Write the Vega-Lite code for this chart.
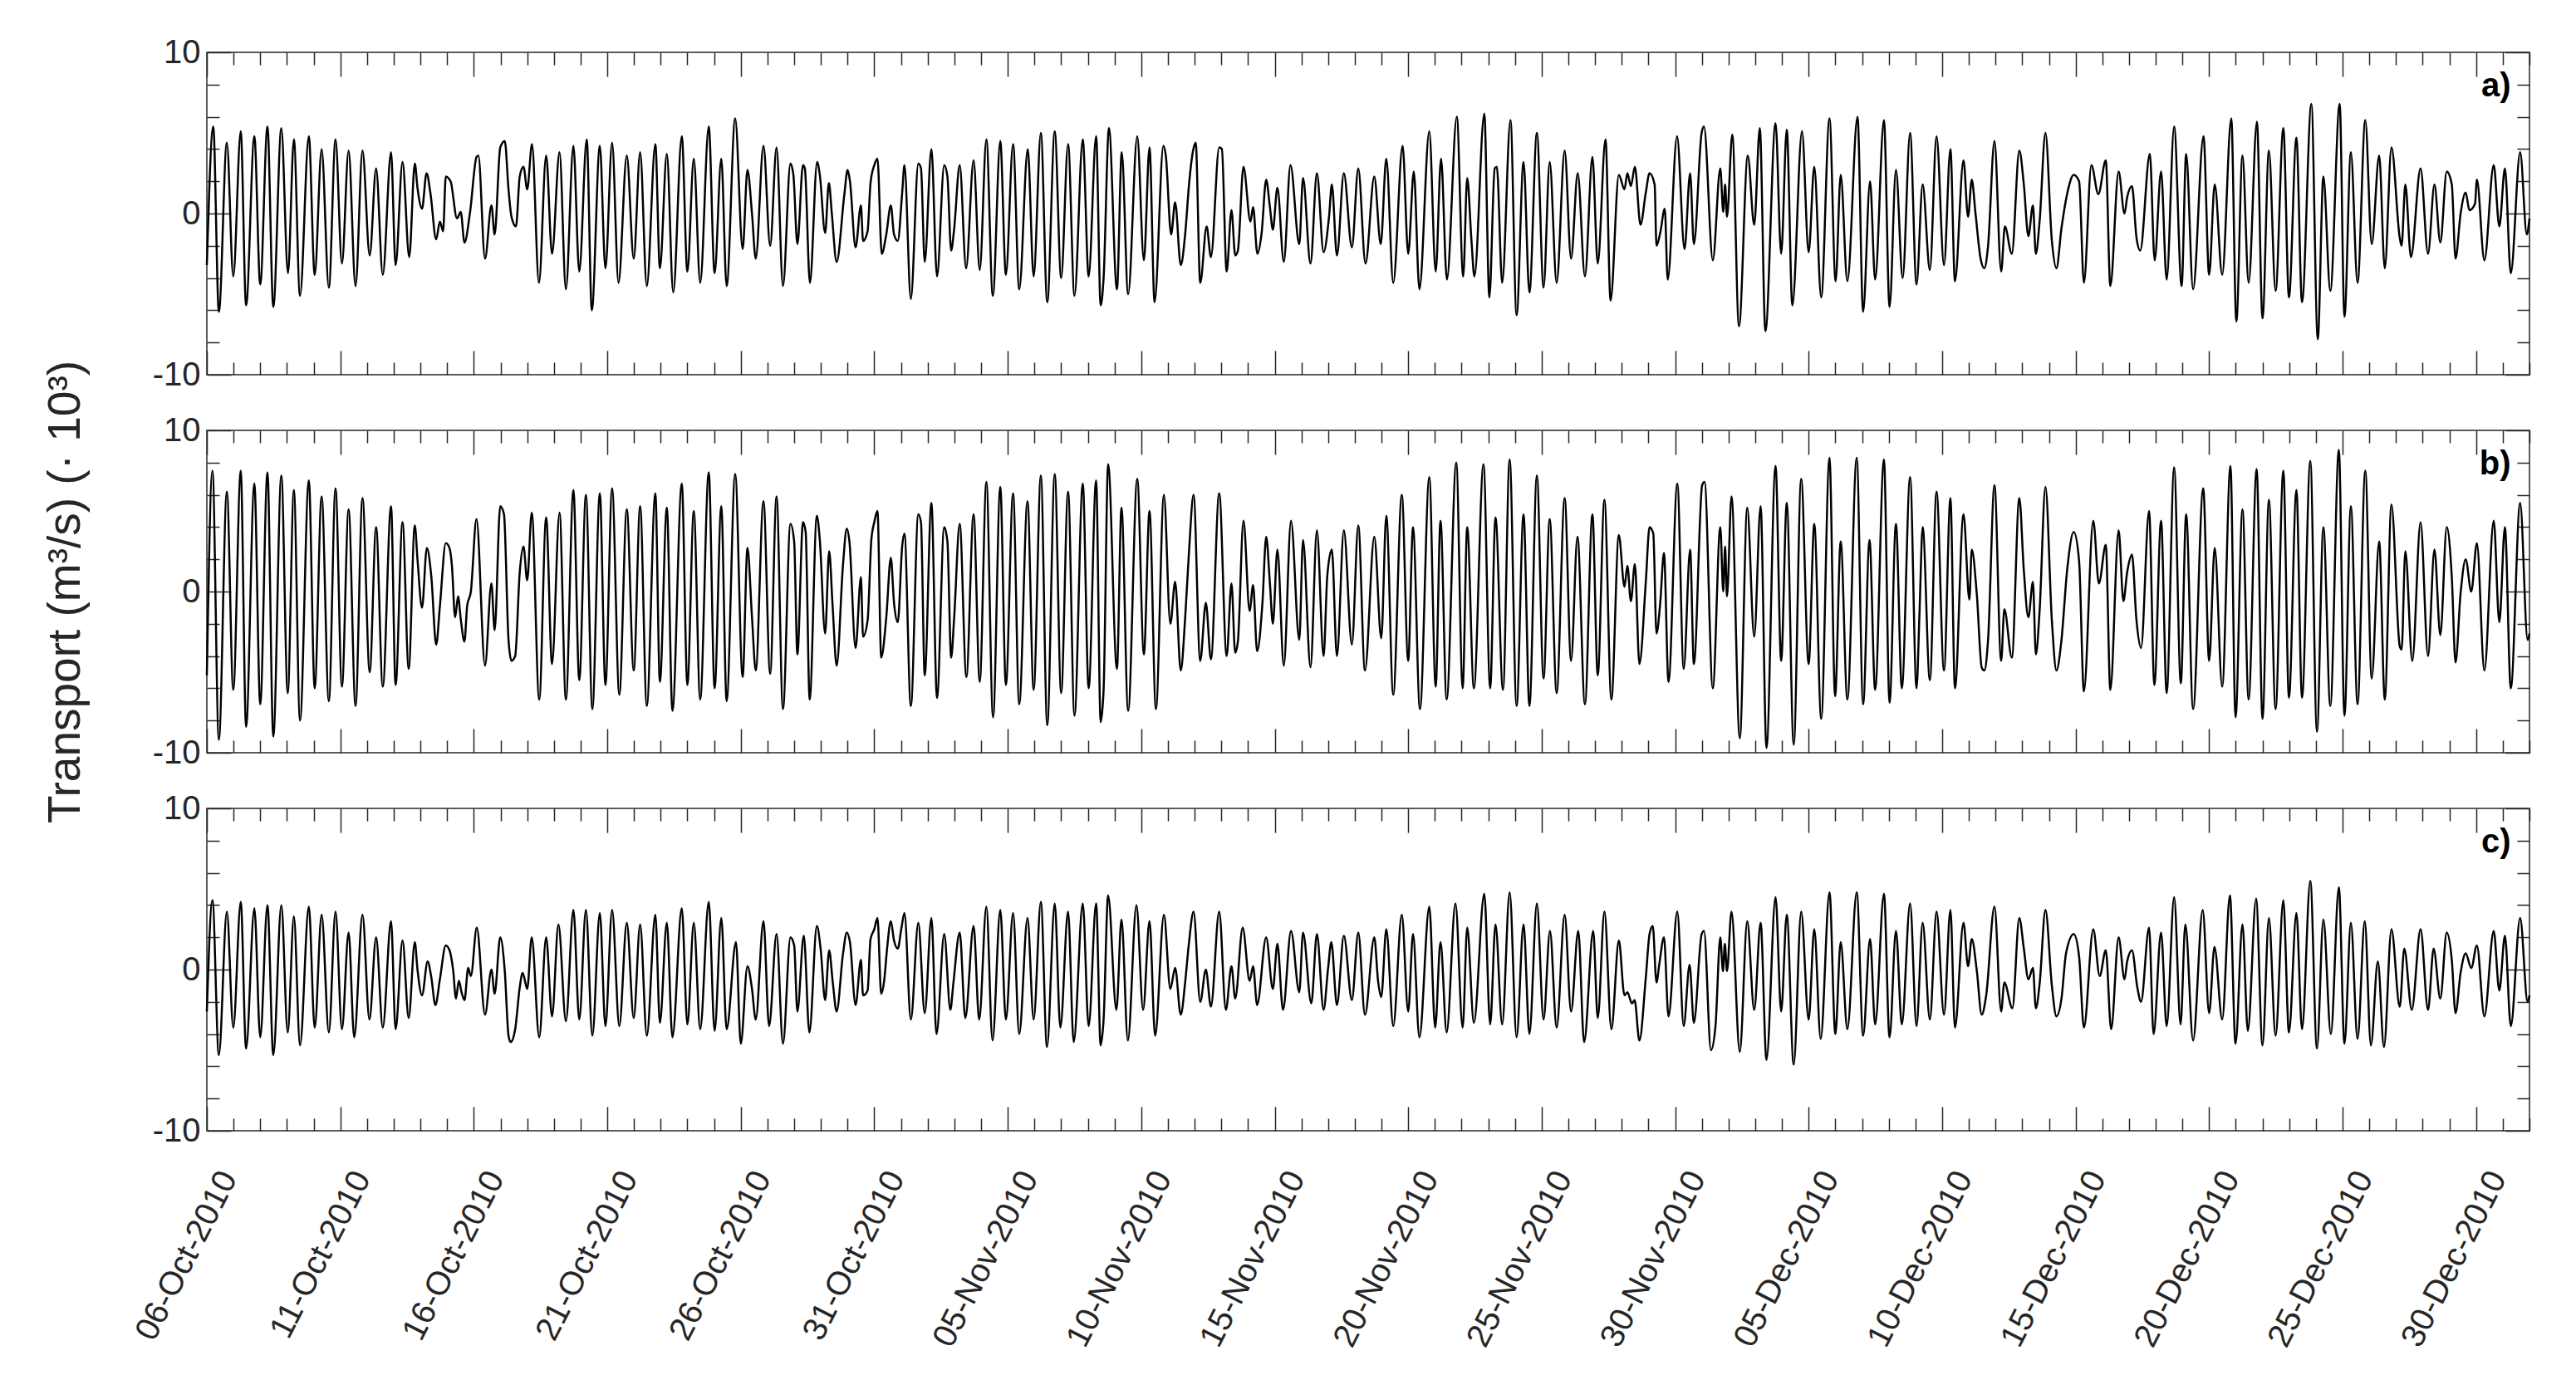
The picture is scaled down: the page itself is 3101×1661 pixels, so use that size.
{
"$schema": "https://vega.github.io/schema/vega-lite/v6.json",
"background": "white",
"padding": {"left": 50, "top": 42, "right": 50, "bottom": 5},
"bounds": "flush",
"spacing": 67,
"config": {
 "view": {"stroke": "#262626", "strokeWidth": 1.5},
 "font": "Liberation Sans",
 "axis": {"labelFont": "Liberation Sans", "titleFont": "Liberation Sans", "labelColor": "#262626", "titleColor": "#262626", "tickColor": "#262626", "tickWidth": 1.5, "grid": false, "domain": false, "labelFontSize": 40, "titleFontWeight": "normal", "labelOverlap": false, "labelLimit": 0}
},
"datasets": {
"a": [{"t":0,"v":-3.2},{"t":0.24,"v":5.4},{"t":0.45,"v":-6.1},{"t":0.75,"v":4.4},{"t":0.99,"v":-3.9},{"t":1.27,"v":5.1},{"t":1.47,"v":-5.7},{"t":1.78,"v":4.8},{"t":2.0,"v":-4.4},{"t":2.27,"v":5.4},{"t":2.49,"v":-5.8},{"t":2.79,"v":5.3},{"t":3.04,"v":-3.7},{"t":3.26,"v":4.6},{"t":3.49,"v":-5.1},{"t":3.82,"v":4.8},{"t":4.04,"v":-3.8},{"t":4.3,"v":4.0},{"t":4.57,"v":-4.6},{"t":4.82,"v":4.6},{"t":5.06,"v":-3.1},{"t":5.31,"v":3.9},{"t":5.57,"v":-4.5},{"t":5.83,"v":3.9},{"t":6.1,"v":-2.6},{"t":6.34,"v":2.8},{"t":6.59,"v":-3.8},{"t":6.9,"v":3.8},{"t":7.07,"v":-3.2},{"t":7.33,"v":3.2},{"t":7.58,"v":-2.7},{"t":7.79,"v":3.1},{"t":7.89,"v":1.6},{"t":8.06,"v":0.3},{"t":8.23,"v":2.5},{"t":8.38,"v":1.2},{"t":8.59,"v":-1.6},{"t":8.73,"v":-0.5},{"t":8.85,"v":-1.1},{"t":8.95,"v":2.3},{"t":9.13,"v":2.0},{"t":9.37,"v":-0.3},{"t":9.51,"v":0.1},{"t":9.65,"v":-1.8},{"t":9.86,"v":0.1},{"t":10.1,"v":3.5},{"t":10.17,"v":3.6},{"t":10.42,"v":-2.8},{"t":10.66,"v":0.5},{"t":10.78,"v":-1.3},{"t":10.99,"v":4.1},{"t":11.16,"v":4.5},{"t":11.3,"v":1.5},{"t":11.41,"v":-0.2},{"t":11.58,"v":-0.8},{"t":11.72,"v":2.3},{"t":11.86,"v":2.9},{"t":12.0,"v":1.5},{"t":12.18,"v":4.3},{"t":12.44,"v":-4.3},{"t":12.71,"v":3.6},{"t":12.93,"v":-2.5},{"t":13.21,"v":3.8},{"t":13.45,"v":-4.7},{"t":13.73,"v":4.2},{"t":13.95,"v":-3.6},{"t":14.23,"v":4.6},{"t":14.42,"v":-6.0},{"t":14.72,"v":4.2},{"t":14.93,"v":-3.4},{"t":15.18,"v":4.4},{"t":15.42,"v":-4.3},{"t":15.73,"v":3.6},{"t":15.99,"v":-2.8},{"t":16.23,"v":3.8},{"t":16.48,"v":-4.5},{"t":16.8,"v":4.3},{"t":16.97,"v":-3.4},{"t":17.23,"v":3.7},{"t":17.47,"v":-4.9},{"t":17.79,"v":4.8},{"t":18.0,"v":-3.6},{"t":18.24,"v":3.4},{"t":18.48,"v":-4.3},{"t":18.8,"v":5.4},{"t":19.02,"v":-3.7},{"t":19.27,"v":3.4},{"t":19.47,"v":-4.5},{"t":19.79,"v":5.9},{"t":20.07,"v":-2.2},{"t":20.25,"v":2.7},{"t":20.42,"v":0.0},{"t":20.56,"v":-2.8},{"t":20.85,"v":4.2},{"t":21.1,"v":-2.0},{"t":21.34,"v":4.1},{"t":21.58,"v":-4.5},
{"t":21.86,"v":3.1},{"t":21.97,"v":2.4},{"t":22.12,"v":-1.9},{"t":22.33,"v":3.0},{"t":22.4,"v":2.8},{"t":22.59,"v":-4.3},{"t":22.86,"v":3.2},{"t":22.96,"v":2.4},{"t":23.16,"v":-1.2},{"t":23.3,"v":1.9},{"t":23.41,"v":0.0},{"t":23.59,"v":-3.0},{"t":23.88,"v":1.2},{"t":24.0,"v":2.7},{"t":24.09,"v":2.0},{"t":24.3,"v":-2.1},{"t":24.5,"v":0.5},{"t":24.58,"v":-1.7},{"t":24.75,"v":-1.1},{"t":24.86,"v":1.9},{"t":25.0,"v":3.0},{"t":25.12,"v":3.4},{"t":25.28,"v":-2.5},{"t":25.45,"v":-1.3},{"t":25.62,"v":0.5},{"t":25.74,"v":-1.3},{"t":25.88,"v":-1.7},{"t":26.05,"v":1.4},{"t":26.13,"v":3.0},{"t":26.37,"v":-5.3},{"t":26.65,"v":3.1},{"t":26.75,"v":2.8},{"t":26.89,"v":-3.0},{"t":27.14,"v":4.0},{"t":27.35,"v":-3.9},{"t":27.62,"v":3.0},{"t":27.74,"v":2.3},{"t":27.88,"v":-2.3},{"t":27.99,"v":-1.0},{"t":28.2,"v":3.0},{"t":28.44,"v":-3.4},{"t":28.72,"v":3.3},{"t":28.95,"v":-3.5},{"t":29.2,"v":4.6},{"t":29.44,"v":-5.1},{"t":29.72,"v":4.5},{"t":29.93,"v":-3.8},{"t":30.2,"v":4.3},{"t":30.43,"v":-4.7},{"t":30.75,"v":4.0},{"t":30.97,"v":-3.9},{"t":31.24,"v":5.0},{"t":31.48,"v":-5.5},{"t":31.76,"v":5.1},{"t":32.0,"v":-4.0},{"t":32.26,"v":4.3},{"t":32.5,"v":-5.1},{"t":32.81,"v":4.6},{"t":33.03,"v":-3.9},{"t":33.31,"v":4.8},{"t":33.48,"v":-5.7},{"t":33.59,"v":-4.0},{"t":33.79,"v":5.3},{"t":34.09,"v":-4.7},{"t":34.27,"v":3.8},{"t":34.51,"v":-5.0},{"t":34.85,"v":4.8},{"t":35.1,"v":-2.9},{"t":35.31,"v":4.1},{"t":35.5,"v":-5.5},{"t":35.83,"v":4.2},{"t":35.92,"v":3.6},{"t":36.12,"v":-1.3},{"t":36.27,"v":0.7},{"t":36.48,"v":-3.2},{"t":36.65,"v":-1.2},{"t":36.79,"v":1.8},{"t":36.93,"v":3.8},{"t":37.04,"v":4.4},{"t":37.21,"v":-4.3},{"t":37.45,"v":-0.8},{"t":37.61,"v":-2.7},{"t":37.92,"v":4.1},{"t":38.02,"v":4.0},{"t":38.2,"v":-3.6},{"t":38.38,"v":0.2},{"t":38.52,"v":-2.6},{"t":38.62,"v":-2.3},{"t":38.83,"v":2.9},{"t":39.09,"v":-0.5},{"t":39.19,"v":0.4},{"t":39.35,"v":-2.5},{"t":39.51,"v":-1.2},{"t":39.68,"v":2.1},{"t":39.82,"v":0.4},{"t":39.93,"v":-1.0},{"t":40.1,"v":1.6},{"t":40.34,"v":-3.0},{"t":40.59,"v":3.0},{"t":40.92,"v":-1.9},{"t":41.06,"v":2.2},{"t":41.34,"v":-3.1},{"t":41.58,"v":2.5},{"t":41.83,"v":-2.4},{"t":42.04,"v":-0.1},{"t":42.14,"v":1.8},{"t":42.33,"v":-2.6},{"t":42.59,"v":2.5},{"t":42.89,"v":-2.1},{"t":43.13,"v":2.8},{"t":43.4,"v":-3.1},
{"t":43.73,"v":2.3},{"t":43.97,"v":-1.9},{"t":44.18,"v":3.4},{"t":44.44,"v":-4.3},{"t":44.79,"v":4.2},{"t":45.0,"v":-2.5},{"t":45.21,"v":2.6},{"t":45.42,"v":-4.7},{"t":45.79,"v":5.1},{"t":46.03,"v":-3.6},{"t":46.23,"v":3.4},{"t":46.45,"v":-4.1},{"t":46.82,"v":6.0},{"t":47.06,"v":-3.9},{"t":47.21,"v":2.2},{"t":47.37,"v":-1.7},{"t":47.48,"v":-3.9},{"t":47.85,"v":6.2},{"t":48.04,"v":-5.2},{"t":48.24,"v":2.8},{"t":48.32,"v":2.9},{"t":48.52,"v":-4.3},{"t":48.83,"v":5.8},{"t":49.06,"v":-6.3},{"t":49.32,"v":3.2},{"t":49.54,"v":-4.9},{"t":49.82,"v":5.0},{"t":50.07,"v":-4.6},{"t":50.3,"v":3.2},{"t":50.56,"v":-4.3},{"t":50.86,"v":3.9},{"t":51.1,"v":-2.8},{"t":51.35,"v":2.5},{"t":51.62,"v":-3.9},{"t":51.9,"v":3.5},{"t":52.1,"v":-3.1},{"t":52.39,"v":4.6},{"t":52.58,"v":-5.4},{"t":52.89,"v":2.4},{"t":53.1,"v":1.5},{"t":53.21,"v":2.5},{"t":53.34,"v":1.7},{"t":53.49,"v":2.9},{"t":53.7,"v":-0.7},{"t":53.9,"v":1.3},{"t":54.04,"v":2.5},{"t":54.23,"v":1.8},{"t":54.3,"v":-2.0},{"t":54.44,"v":-1.2},{"t":54.61,"v":0.3},{"t":54.72,"v":-4.1},{"t":55.07,"v":4.8},{"t":55.35,"v":-2.2},{"t":55.56,"v":2.5},{"t":55.7,"v":-1.9},{"t":55.99,"v":5.0},{"t":56.08,"v":5.4},{"t":56.41,"v":-2.9},{"t":56.69,"v":2.8},{"t":56.8,"v":0.1},{"t":56.87,"v":1.8},{"t":56.94,"v":-0.2},{"t":57.14,"v":4.9},{"t":57.39,"v":-7.0},{"t":57.72,"v":3.6},{"t":57.96,"v":-0.7},{"t":58.17,"v":5.3},{"t":58.38,"v":-7.3},{"t":58.76,"v":5.6},{"t":58.97,"v":-2.5},{"t":59.18,"v":5.2},{"t":59.39,"v":-5.7},{"t":59.75,"v":5.1},{"t":60.0,"v":-2.4},{"t":60.21,"v":2.9},{"t":60.47,"v":-5.2},{"t":60.78,"v":5.9},{"t":61.01,"v":-4.2},{"t":61.2,"v":2.4},{"t":61.45,"v":-4.2},{"t":61.83,"v":6.0},{"t":62.04,"v":-6.1},{"t":62.3,"v":2.0},{"t":62.49,"v":-4.1},{"t":62.82,"v":5.8},{"t":63.03,"v":-5.8},{"t":63.27,"v":2.7},{"t":63.52,"v":-4.0},{"t":63.8,"v":5.0},{"t":64.04,"v":-4.4},{"t":64.27,"v":1.8},{"t":64.54,"v":-3.5},{"t":64.79,"v":4.8},{"t":65.07,"v":-3.2},
{"t":65.31,"v":4.0},{"t":65.48,"v":-4.2},{"t":65.8,"v":3.3},{"t":65.97,"v":-0.2},{"t":66.11,"v":2.1},{"t":66.25,"v":0.0},{"t":66.44,"v":-2.8},{"t":66.58,"v":-3.4},{"t":66.72,"v":-2.0},{"t":66.96,"v":4.5},{"t":67.21,"v":-3.6},{"t":67.35,"v":-0.8},{"t":67.61,"v":-2.5},{"t":67.89,"v":3.9},{"t":68.06,"v":1.8},{"t":68.23,"v":-1.4},{"t":68.4,"v":0.5},{"t":68.51,"v":-2.5},{"t":68.65,"v":-0.5},{"t":68.87,"v":5.0},{"t":69.11,"v":-1.7},{"t":69.28,"v":-3.4},{"t":69.47,"v":-0.9},{"t":69.68,"v":1.2},{"t":69.93,"v":2.4},{"t":70.13,"v":2.0},{"t":70.31,"v":-4.3},{"t":70.59,"v":3.0},{"t":70.85,"v":1.2},{"t":71.13,"v":3.3},{"t":71.3,"v":-4.5},{"t":71.61,"v":2.6},{"t":71.83,"v":0.0},{"t":71.93,"v":1.0},{"t":72.11,"v":1.7},{"t":72.28,"v":-1.5},{"t":72.42,"v":-2.3},{"t":72.78,"v":3.7},{"t":72.96,"v":-2.9},{"t":73.2,"v":2.6},{"t":73.41,"v":-4.1},{"t":73.69,"v":5.4},{"t":73.97,"v":-4.5},{"t":74.14,"v":3.7},{"t":74.4,"v":-4.7},{"t":74.79,"v":4.8},{"t":75.0,"v":-3.8},{"t":75.21,"v":1.8},{"t":75.49,"v":-3.8},{"t":75.83,"v":5.9},{"t":76.02,"v":-6.7},{"t":76.25,"v":3.6},{"t":76.48,"v":-4.3},{"t":76.79,"v":5.7},{"t":77.0,"v":-6.5},{"t":77.24,"v":3.9},{"t":77.49,"v":-4.8},{"t":77.78,"v":5.3},{"t":77.99,"v":-5.2},{"t":78.27,"v":4.7},{"t":78.48,"v":-5.5},{"t":78.83,"v":6.8},{"t":79.07,"v":-7.8},{"t":79.28,"v":2.3},{"t":79.54,"v":-4.8},{"t":79.89,"v":6.8},{"t":80.07,"v":-6.4},{"t":80.31,"v":3.8},{"t":80.56,"v":-4.3},{"t":80.85,"v":5.8},{"t":81.09,"v":-1.9},{"t":81.37,"v":3.6},{"t":81.58,"v":-3.4},{"t":81.83,"v":4.1},{"t":82.14,"v":-1.5},{"t":82.21,"v":-2.0},{"t":82.35,"v":1.8},{"t":82.56,"v":-2.7},{"t":82.92,"v":2.8},{"t":83.2,"v":-2.5},{"t":83.44,"v":1.8},{"t":83.66,"v":-1.8},{"t":83.9,"v":2.6},{"t":84.09,"v":1.8},{"t":84.23,"v":-2.8},{"t":84.42,"v":0.0},{"t":84.61,"v":1.3},{"t":84.75,"v":0.2},{"t":84.96,"v":0.6},{"t":85.03,"v":2.1},{"t":85.31,"v":-2.9},{"t":85.66,"v":3.0},{"t":85.87,"v":-0.8},{"t":86.08,"v":2.8},{"t":86.3,"v":-3.7},{"t":86.65,"v":3.8},{"t":86.9,"v":-1.3},{"t":87.0,"v":-0.3}],
"b": [{"t":0,"v":-5.2},{"t":0.21,"v":7.5},{"t":0.45,"v":-9.2},{"t":0.75,"v":6.2},{"t":0.99,"v":-6.1},{"t":1.27,"v":7.5},{"t":1.47,"v":-8.4},{"t":1.78,"v":6.7},{"t":2.0,"v":-7.0},{"t":2.27,"v":7.4},{"t":2.49,"v":-9.0},{"t":2.79,"v":7.2},{"t":3.03,"v":-6.3},{"t":3.26,"v":6.3},{"t":3.49,"v":-8.0},{"t":3.82,"v":6.9},{"t":4.04,"v":-6.0},{"t":4.3,"v":5.9},{"t":4.57,"v":-6.8},{"t":4.82,"v":6.4},{"t":5.06,"v":-5.9},{"t":5.31,"v":5.1},{"t":5.57,"v":-7.1},{"t":5.83,"v":5.8},{"t":6.1,"v":-5.0},{"t":6.34,"v":4.0},{"t":6.59,"v":-5.9},{"t":6.9,"v":5.3},{"t":7.07,"v":-5.8},{"t":7.33,"v":4.3},{"t":7.56,"v":-4.8},{"t":7.79,"v":4.1},{"t":7.89,"v":2.0},{"t":8.06,"v":-1.0},{"t":8.24,"v":2.7},{"t":8.41,"v":0.9},{"t":8.59,"v":-3.3},{"t":8.73,"v":-0.9},{"t":8.95,"v":3.0},{"t":9.09,"v":2.7},{"t":9.18,"v":1.6},{"t":9.3,"v":-1.6},{"t":9.41,"v":-0.3},{"t":9.51,"v":-1.7},{"t":9.65,"v":-3.1},{"t":9.75,"v":-0.9},{"t":9.89,"v":0.0},{"t":10.1,"v":4.5},{"t":10.42,"v":-4.6},{"t":10.66,"v":0.5},{"t":10.78,"v":-2.4},{"t":10.99,"v":5.3},{"t":11.13,"v":4.8},{"t":11.3,"v":-3.0},{"t":11.41,"v":-4.3},{"t":11.55,"v":-4.0},{"t":11.72,"v":1.2},{"t":11.86,"v":2.8},{"t":12.0,"v":0.7},{"t":12.17,"v":4.9},{"t":12.45,"v":-6.7},{"t":12.71,"v":4.6},{"t":12.93,"v":-4.5},{"t":13.21,"v":4.9},{"t":13.45,"v":-6.7},{"t":13.73,"v":6.3},{"t":13.95,"v":-5.5},{"t":14.2,"v":6.0},{"t":14.44,"v":-7.3},{"t":14.72,"v":6.1},{"t":14.93,"v":-5.8},{"t":15.18,"v":6.4},{"t":15.45,"v":-6.4},{"t":15.73,"v":5.1},{"t":15.99,"v":-4.9},{"t":16.23,"v":5.3},{"t":16.48,"v":-7.1},{"t":16.8,"v":6.1},{"t":16.97,"v":-5.6},{"t":17.23,"v":5.2},{"t":17.44,"v":-7.4},{"t":17.79,"v":6.7},{"t":18.0,"v":-5.8},{"t":18.24,"v":5.0},{"t":18.48,"v":-6.7},{"t":18.8,"v":7.4},{"t":19.02,"v":-6.0},{"t":19.27,"v":5.3},{"t":19.47,"v":-6.8},{"t":19.79,"v":7.3},{"t":20.07,"v":-5.3},{"t":20.25,"v":2.7},{"t":20.42,"v":-1.6},{"t":20.56,"v":-4.9},{"t":20.85,"v":5.6},{"t":21.1,"v":-5.1},{"t":21.34,"v":5.9},{"t":21.58,"v":-7.3},
{"t":21.86,"v":4.2},{"t":22.0,"v":3.1},{"t":22.12,"v":-3.9},{"t":22.33,"v":4.3},{"t":22.43,"v":3.7},{"t":22.58,"v":-6.7},{"t":22.85,"v":4.7},{"t":22.96,"v":3.2},{"t":23.16,"v":-2.6},{"t":23.31,"v":2.5},{"t":23.44,"v":-0.9},{"t":23.59,"v":-4.6},{"t":23.83,"v":1.7},{"t":23.97,"v":3.9},{"t":24.07,"v":3.1},{"t":24.3,"v":-3.5},{"t":24.5,"v":0.9},{"t":24.58,"v":-2.8},{"t":24.75,"v":-1.8},{"t":24.89,"v":3.2},{"t":25.0,"v":4.3},{"t":25.12,"v":5.0},{"t":25.26,"v":-4.1},{"t":25.45,"v":-1.6},{"t":25.62,"v":2.1},{"t":25.74,"v":-0.7},{"t":25.88,"v":-1.9},{"t":26.05,"v":2.9},{"t":26.13,"v":3.6},{"t":26.37,"v":-7.1},{"t":26.65,"v":4.8},{"t":26.75,"v":4.3},{"t":26.89,"v":-5.2},{"t":27.14,"v":5.5},{"t":27.35,"v":-6.6},{"t":27.62,"v":4.0},{"t":27.74,"v":3.1},{"t":27.88,"v":-4.1},{"t":27.99,"v":-1.7},{"t":28.2,"v":4.2},{"t":28.45,"v":-5.3},{"t":28.72,"v":4.8},{"t":28.95,"v":-5.6},{"t":29.2,"v":6.8},{"t":29.45,"v":-7.8},{"t":29.72,"v":6.5},{"t":29.93,"v":-5.8},{"t":30.2,"v":6.1},{"t":30.43,"v":-7.0},{"t":30.74,"v":5.6},{"t":30.97,"v":-6.1},{"t":31.24,"v":7.2},{"t":31.48,"v":-8.3},{"t":31.76,"v":7.3},{"t":32.0,"v":-6.3},{"t":32.26,"v":6.2},{"t":32.5,"v":-7.7},{"t":32.81,"v":6.7},{"t":33.03,"v":-6.0},{"t":33.31,"v":6.9},{"t":33.48,"v":-8.1},{"t":33.59,"v":-6.1},{"t":33.76,"v":7.9},{"t":34.09,"v":-4.8},{"t":34.26,"v":5.2},{"t":34.51,"v":-7.4},{"t":34.85,"v":7.0},{"t":35.1,"v":-3.9},{"t":35.31,"v":5.0},{"t":35.55,"v":-7.3},{"t":35.85,"v":6.0},{"t":36.09,"v":-2.0},{"t":36.27,"v":0.6},{"t":36.48,"v":-4.9},{"t":36.65,"v":-1.5},{"t":36.79,"v":2.5},{"t":36.96,"v":6.0},{"t":37.21,"v":-4.3},{"t":37.42,"v":-0.7},{"t":37.61,"v":-4.2},{"t":37.92,"v":6.1},{"t":38.2,"v":-4.0},{"t":38.38,"v":0.5},{"t":38.52,"v":-3.8},{"t":38.62,"v":-3.1},{"t":38.83,"v":4.4},{"t":39.06,"v":-1.2},{"t":39.19,"v":0.4},{"t":39.34,"v":-3.7},{"t":39.54,"v":-0.7},{"t":39.68,"v":3.4},{"t":39.82,"v":0.5},{"t":39.93,"v":-2.0},{"t":40.1,"v":2.6},{"t":40.34,"v":-4.6},{"t":40.61,"v":4.4},{"t":40.92,"v":-3.0},{"t":41.06,"v":3.2},{"t":41.34,"v":-4.7},{"t":41.58,"v":3.8},{"t":41.83,"v":-4.0},{"t":41.97,"v":1.0},{"t":42.14,"v":2.6},{"t":42.33,"v":-4.0},{"t":42.59,"v":3.8},{"t":42.89,"v":-3.3},{"t":43.13,"v":4.1},{"t":43.38,"v":-4.9},
{"t":43.73,"v":3.4},{"t":43.99,"v":-2.9},{"t":44.18,"v":4.7},{"t":44.44,"v":-6.4},{"t":44.76,"v":6.0},{"t":45.0,"v":-4.3},{"t":45.18,"v":4.0},{"t":45.44,"v":-7.3},{"t":45.79,"v":7.1},{"t":46.03,"v":-5.9},{"t":46.21,"v":4.4},{"t":46.44,"v":-6.7},{"t":46.8,"v":8.0},{"t":47.04,"v":-6.0},{"t":47.21,"v":4.0},{"t":47.46,"v":-6.0},{"t":47.82,"v":7.9},{"t":48.07,"v":-6.0},{"t":48.27,"v":4.6},{"t":48.55,"v":-6.1},{"t":48.8,"v":8.2},{"t":49.06,"v":-7.1},{"t":49.32,"v":4.8},{"t":49.54,"v":-7.1},{"t":49.82,"v":7.2},{"t":50.07,"v":-5.4},{"t":50.3,"v":4.5},{"t":50.56,"v":-6.3},{"t":50.86,"v":5.8},{"t":51.1,"v":-4.3},{"t":51.34,"v":3.4},{"t":51.62,"v":-7.0},{"t":51.9,"v":4.8},{"t":52.1,"v":-5.2},{"t":52.35,"v":5.7},{"t":52.61,"v":-6.7},{"t":52.89,"v":3.5},{"t":53.1,"v":0.3},{"t":53.21,"v":1.6},{"t":53.34,"v":-0.6},{"t":53.49,"v":1.7},{"t":53.66,"v":-4.5},{"t":53.9,"v":0.6},{"t":54.04,"v":4.0},{"t":54.18,"v":3.6},{"t":54.3,"v":-2.6},{"t":54.44,"v":-0.7},{"t":54.58,"v":2.4},{"t":54.75,"v":-5.6},{"t":55.08,"v":6.7},{"t":55.32,"v":-4.8},{"t":55.56,"v":2.6},{"t":55.7,"v":-4.5},{"t":56.01,"v":6.6},{"t":56.1,"v":6.8},{"t":56.41,"v":-6.0},{"t":56.69,"v":4.0},{"t":56.8,"v":0.0},{"t":56.87,"v":2.8},{"t":56.94,"v":-0.3},{"t":57.11,"v":5.9},{"t":57.42,"v":-9.1},{"t":57.7,"v":5.2},{"t":57.96,"v":-2.8},{"t":58.2,"v":5.3},{"t":58.42,"v":-9.7},{"t":58.76,"v":7.8},{"t":58.97,"v":-4.3},{"t":59.18,"v":5.5},{"t":59.44,"v":-9.5},{"t":59.72,"v":7.0},{"t":60.0,"v":-4.5},{"t":60.21,"v":4.2},{"t":60.47,"v":-7.9},{"t":60.78,"v":8.3},{"t":60.99,"v":-6.5},{"t":61.2,"v":3.1},{"t":61.45,"v":-6.7},{"t":61.8,"v":8.3},{"t":62.04,"v":-7.0},{"t":62.28,"v":3.2},{"t":62.49,"v":-6.1},{"t":62.82,"v":8.2},{"t":63.03,"v":-6.9},{"t":63.27,"v":4.2},{"t":63.49,"v":-6.0},{"t":63.8,"v":7.1},{"t":64.04,"v":-6.0},{"t":64.15,"v":-1.4},{"t":64.27,"v":4.0},{"t":64.54,"v":-5.5},{"t":64.79,"v":6.2},{"t":65.07,"v":-4.9},
{"t":65.31,"v":5.8},{"t":65.48,"v":-6.0},{"t":65.8,"v":4.8},{"t":66.02,"v":-0.5},{"t":66.11,"v":2.6},{"t":66.3,"v":-0.2},{"t":66.48,"v":-4.7},{"t":66.58,"v":-4.9},{"t":66.72,"v":-3.0},{"t":66.96,"v":6.6},{"t":67.21,"v":-4.3},{"t":67.33,"v":-1.1},{"t":67.61,"v":-4.1},{"t":67.89,"v":5.8},{"t":68.06,"v":1.3},{"t":68.23,"v":-1.6},{"t":68.4,"v":0.6},{"t":68.51,"v":-3.9},{"t":68.65,"v":-1.2},{"t":68.87,"v":6.5},{"t":69.11,"v":-1.8},{"t":69.28,"v":-4.9},{"t":69.47,"v":-3.0},{"t":69.68,"v":1.3},{"t":69.93,"v":3.7},{"t":70.13,"v":1.9},{"t":70.31,"v":-6.2},{"t":70.66,"v":4.4},{"t":70.87,"v":0.5},{"t":71.13,"v":2.9},{"t":71.3,"v":-6.1},{"t":71.61,"v":3.8},{"t":71.79,"v":-0.6},{"t":71.93,"v":1.2},{"t":72.11,"v":2.3},{"t":72.28,"v":-1.8},{"t":72.45,"v":-3.5},{"t":72.75,"v":5.0},{"t":72.95,"v":-5.8},{"t":73.2,"v":4.4},{"t":73.41,"v":-6.3},{"t":73.69,"v":7.7},{"t":73.94,"v":-5.7},{"t":74.14,"v":4.8},{"t":74.4,"v":-7.3},{"t":74.78,"v":6.4},{"t":75.0,"v":-4.3},{"t":75.21,"v":2.7},{"t":75.49,"v":-5.9},{"t":75.8,"v":7.8},{"t":75.99,"v":-7.8},{"t":76.25,"v":5.1},{"t":76.48,"v":-6.7},{"t":76.78,"v":7.6},{"t":77.0,"v":-7.9},{"t":77.24,"v":5.7},{"t":77.49,"v":-7.3},{"t":77.78,"v":7.5},{"t":77.99,"v":-6.6},{"t":78.27,"v":6.3},{"t":78.48,"v":-6.6},{"t":78.79,"v":8.1},{"t":79.04,"v":-8.7},{"t":79.28,"v":4.0},{"t":79.54,"v":-7.1},{"t":79.86,"v":8.8},{"t":80.07,"v":-7.7},{"t":80.31,"v":5.3},{"t":80.56,"v":-7.0},{"t":80.85,"v":7.5},{"t":81.09,"v":-5.4},{"t":81.37,"v":3.1},{"t":81.58,"v":-6.7},{"t":81.83,"v":5.4},{"t":82.14,"v":-3.4},{"t":82.21,"v":-3.6},{"t":82.35,"v":2.5},{"t":82.61,"v":-4.3},{"t":82.92,"v":4.3},{"t":83.2,"v":-4.0},{"t":83.44,"v":2.6},{"t":83.66,"v":-2.7},{"t":83.9,"v":4.0},{"t":84.09,"v":0.9},{"t":84.23,"v":-4.4},{"t":84.42,"v":-0.1},{"t":84.61,"v":2.0},{"t":84.82,"v":0.0},{"t":85.03,"v":3.0},{"t":85.31,"v":-4.9},{"t":85.66,"v":4.4},{"t":85.87,"v":-1.9},{"t":86.08,"v":4.0},{"t":86.3,"v":-6.0},{"t":86.65,"v":5.5},{"t":86.93,"v":-3.0},{"t":87.0,"v":-2.6}],
"c": [{"t":0,"v":-2.6},{"t":0.21,"v":4.3},{"t":0.45,"v":-5.3},{"t":0.75,"v":3.6},{"t":0.99,"v":-3.6},{"t":1.27,"v":4.2},{"t":1.47,"v":-4.9},{"t":1.78,"v":3.8},{"t":2.0,"v":-4.2},{"t":2.27,"v":4.0},{"t":2.49,"v":-5.3},{"t":2.79,"v":4.0},{"t":3.03,"v":-3.9},{"t":3.26,"v":3.3},{"t":3.49,"v":-4.7},{"t":3.82,"v":3.9},{"t":4.04,"v":-3.6},{"t":4.3,"v":3.4},{"t":4.57,"v":-3.9},{"t":4.82,"v":3.6},{"t":5.06,"v":-3.7},{"t":5.31,"v":2.3},{"t":5.52,"v":-4.2},{"t":5.83,"v":3.4},{"t":6.09,"v":-3.1},{"t":6.34,"v":2.0},{"t":6.59,"v":-3.6},{"t":6.9,"v":3.0},{"t":7.07,"v":-3.7},{"t":7.33,"v":1.8},{"t":7.56,"v":-3.0},{"t":7.79,"v":1.7},{"t":7.89,"v":0.0},{"t":8.06,"v":-1.6},{"t":8.27,"v":0.5},{"t":8.41,"v":-0.5},{"t":8.56,"v":-2.2},{"t":8.73,"v":-0.6},{"t":8.95,"v":1.5},{"t":9.09,"v":1.2},{"t":9.23,"v":-0.1},{"t":9.33,"v":-1.8},{"t":9.44,"v":-0.7},{"t":9.54,"v":-1.4},{"t":9.65,"v":-1.9},{"t":9.79,"v":0.1},{"t":9.89,"v":-0.4},{"t":10.11,"v":2.6},{"t":10.42,"v":-2.8},{"t":10.66,"v":0.0},{"t":10.78,"v":-1.5},{"t":10.99,"v":2.0},{"t":11.16,"v":-0.1},{"t":11.3,"v":-4.1},{"t":11.38,"v":-4.5},{"t":11.55,"v":-3.7},{"t":11.72,"v":-1.1},{"t":11.83,"v":-0.2},{"t":12.0,"v":-1.2},{"t":12.17,"v":2.0},{"t":12.45,"v":-4.2},{"t":12.71,"v":2.0},{"t":12.93,"v":-2.9},{"t":13.17,"v":2.8},{"t":13.45,"v":-3.2},{"t":13.73,"v":3.7},{"t":13.95,"v":-3.1},{"t":14.2,"v":3.7},{"t":14.44,"v":-4.1},{"t":14.72,"v":3.5},{"t":14.93,"v":-3.5},{"t":15.18,"v":3.7},{"t":15.45,"v":-3.5},{"t":15.73,"v":2.9},{"t":15.99,"v":-3.0},{"t":16.23,"v":2.8},{"t":16.48,"v":-4.1},{"t":16.8,"v":3.4},{"t":16.97,"v":-3.3},{"t":17.23,"v":2.9},{"t":17.44,"v":-4.2},{"t":17.79,"v":3.8},{"t":18.0,"v":-3.4},{"t":18.24,"v":2.9},{"t":18.48,"v":-3.7},{"t":18.8,"v":4.2},{"t":19.02,"v":-3.8},{"t":19.27,"v":3.2},{"t":19.47,"v":-3.7},{"t":19.82,"v":1.7},{"t":20.0,"v":-4.6},{"t":20.25,"v":0.2},{"t":20.42,"v":-1.2},{"t":20.56,"v":-3.1},{"t":20.85,"v":3.0},{"t":21.06,"v":-3.5},{"t":21.34,"v":2.2},{"t":21.58,"v":-4.6},
{"t":21.86,"v":2.0},{"t":22.0,"v":1.5},{"t":22.12,"v":-2.6},{"t":22.36,"v":2.1},{"t":22.57,"v":-3.9},{"t":22.85,"v":2.7},{"t":22.99,"v":1.3},{"t":23.16,"v":-1.9},{"t":23.31,"v":1.2},{"t":23.44,"v":-0.7},{"t":23.59,"v":-2.6},{"t":23.83,"v":1.0},{"t":23.97,"v":2.3},{"t":24.09,"v":1.7},{"t":24.3,"v":-2.2},{"t":24.5,"v":0.6},{"t":24.58,"v":-1.6},{"t":24.75,"v":-1.3},{"t":24.86,"v":1.9},{"t":25.0,"v":2.5},{"t":25.12,"v":3.2},{"t":25.26,"v":-1.5},{"t":25.37,"v":-0.7},{"t":25.48,"v":1.3},{"t":25.62,"v":3.0},{"t":25.74,"v":1.8},{"t":25.88,"v":1.3},{"t":26.02,"v":2.6},{"t":26.13,"v":3.5},{"t":26.37,"v":-3.1},{"t":26.65,"v":2.9},{"t":26.89,"v":-2.7},{"t":27.14,"v":3.2},{"t":27.33,"v":-4.0},{"t":27.62,"v":2.2},{"t":27.85,"v":-2.5},{"t":27.96,"v":-0.9},{"t":28.2,"v":2.3},{"t":28.41,"v":-3.0},{"t":28.72,"v":2.7},{"t":28.93,"v":-3.1},{"t":29.2,"v":3.9},{"t":29.43,"v":-4.4},{"t":29.72,"v":3.7},{"t":29.93,"v":-3.1},{"t":30.2,"v":3.5},{"t":30.43,"v":-4.0},{"t":30.74,"v":3.2},{"t":30.97,"v":-3.1},{"t":31.24,"v":4.2},{"t":31.47,"v":-4.8},{"t":31.76,"v":4.1},{"t":31.97,"v":-3.6},{"t":32.26,"v":3.6},{"t":32.47,"v":-4.5},{"t":32.81,"v":4.1},{"t":33.03,"v":-3.5},{"t":33.31,"v":4.1},{"t":33.48,"v":-4.7},{"t":33.59,"v":-3.1},{"t":33.76,"v":4.6},{"t":34.07,"v":-2.5},{"t":34.26,"v":3.1},{"t":34.5,"v":-4.4},{"t":34.82,"v":4.0},{"t":35.07,"v":-2.5},{"t":35.31,"v":3.0},{"t":35.52,"v":-4.1},{"t":35.85,"v":3.4},{"t":36.09,"v":-1.2},{"t":36.27,"v":0.1},{"t":36.48,"v":-2.8},{"t":36.65,"v":-0.7},{"t":36.79,"v":1.7},{"t":36.96,"v":3.6},{"t":37.21,"v":-2.0},{"t":37.42,"v":0.0},{"t":37.61,"v":-2.3},{"t":37.92,"v":3.6},{"t":38.17,"v":-2.5},{"t":38.38,"v":0.2},{"t":38.52,"v":-1.8},{"t":38.8,"v":2.6},{"t":39.06,"v":-0.7},{"t":39.19,"v":0.2},{"t":39.34,"v":-2.2},{"t":39.68,"v":2.0},{"t":39.93,"v":-1.2},{"t":40.1,"v":1.6},{"t":40.31,"v":-2.5},{"t":40.61,"v":2.4},{"t":40.92,"v":-1.4},{"t":41.06,"v":2.3},{"t":41.37,"v":-2.1},{"t":41.58,"v":2.2},{"t":41.83,"v":-2.5},{"t":42.0,"v":0.1},{"t":42.12,"v":1.7},{"t":42.33,"v":-2.2},{"t":42.59,"v":2.1},{"t":42.89,"v":-1.9},{"t":43.13,"v":2.3},{"t":43.38,"v":-2.8},
{"t":43.73,"v":2.0},{"t":43.87,"v":-0.7},{"t":43.99,"v":-1.7},{"t":44.18,"v":2.5},{"t":44.44,"v":-3.5},{"t":44.76,"v":3.4},{"t":45.0,"v":-2.6},{"t":45.18,"v":2.2},{"t":45.42,"v":-4.2},{"t":45.79,"v":3.9},{"t":46.01,"v":-3.6},{"t":46.21,"v":1.7},{"t":46.44,"v":-3.9},{"t":46.77,"v":4.1},{"t":47.04,"v":-3.6},{"t":47.21,"v":2.6},{"t":47.46,"v":-3.3},{"t":47.85,"v":4.7},{"t":48.07,"v":-3.4},{"t":48.27,"v":2.8},{"t":48.52,"v":-3.4},{"t":48.8,"v":4.8},{"t":49.06,"v":-4.2},{"t":49.32,"v":2.8},{"t":49.54,"v":-4.0},{"t":49.82,"v":4.1},{"t":50.07,"v":-3.1},{"t":50.31,"v":2.4},{"t":50.56,"v":-3.6},{"t":50.86,"v":3.4},{"t":51.1,"v":-2.6},{"t":51.37,"v":2.4},{"t":51.59,"v":-4.5},{"t":51.93,"v":2.4},{"t":52.1,"v":-3.0},{"t":52.35,"v":3.6},{"t":52.61,"v":-3.7},{"t":52.89,"v":1.8},{"t":53.1,"v":-1.6},{"t":53.21,"v":-1.4},{"t":53.38,"v":-2.1},{"t":53.48,"v":-1.9},{"t":53.66,"v":-4.4},{"t":53.9,"v":-0.5},{"t":54.04,"v":2.2},{"t":54.16,"v":2.7},{"t":54.3,"v":-0.8},{"t":54.41,"v":0.4},{"t":54.58,"v":2.0},{"t":54.75,"v":-2.9},{"t":55.08,"v":3.6},{"t":55.32,"v":-3.5},{"t":55.54,"v":0.3},{"t":55.7,"v":-3.3},{"t":55.99,"v":2.2},{"t":56.08,"v":2.4},{"t":56.34,"v":-5.0},{"t":56.51,"v":-3.5},{"t":56.69,"v":2.0},{"t":56.79,"v":-0.1},{"t":56.86,"v":1.6},{"t":56.94,"v":-0.1},{"t":57.11,"v":3.6},{"t":57.42,"v":-5.1},{"t":57.7,"v":3.0},{"t":57.96,"v":-2.5},{"t":58.2,"v":2.9},{"t":58.42,"v":-5.6},{"t":58.76,"v":4.5},{"t":58.97,"v":-2.6},{"t":59.18,"v":3.4},{"t":59.44,"v":-5.9},{"t":59.72,"v":3.6},{"t":60.0,"v":-3.1},{"t":60.21,"v":2.5},{"t":60.45,"v":-4.3},{"t":60.78,"v":4.8},{"t":61.0,"v":-4.0},{"t":61.2,"v":1.7},{"t":61.45,"v":-3.7},{"t":61.8,"v":4.8},{"t":62.04,"v":-4.1},{"t":62.3,"v":1.9},{"t":62.49,"v":-3.4},{"t":62.82,"v":4.7},{"t":63.03,"v":-4.2},{"t":63.27,"v":2.4},{"t":63.49,"v":-3.4},{"t":63.8,"v":4.1},{"t":64.04,"v":-3.5},{"t":64.27,"v":2.9},{"t":64.54,"v":-3.1},{"t":64.79,"v":3.6},{"t":65.07,"v":-2.8},
{"t":65.31,"v":3.7},{"t":65.48,"v":-3.6},{"t":65.8,"v":2.9},{"t":65.97,"v":0.2},{"t":66.11,"v":1.9},{"t":66.3,"v":-0.1},{"t":66.48,"v":-2.8},{"t":66.65,"v":-1.6},{"t":66.96,"v":3.9},{"t":67.21,"v":-2.6},{"t":67.33,"v":-0.8},{"t":67.63,"v":-2.4},{"t":67.89,"v":3.2},{"t":68.06,"v":1.3},{"t":68.23,"v":-0.6},{"t":68.4,"v":0.1},{"t":68.51,"v":-2.4},{"t":68.65,"v":-0.9},{"t":68.87,"v":3.7},{"t":69.11,"v":-1.0},{"t":69.28,"v":-2.9},{"t":69.47,"v":-1.8},{"t":69.64,"v":1.0},{"t":69.93,"v":2.2},{"t":70.13,"v":0.8},{"t":70.31,"v":-3.6},{"t":70.66,"v":2.5},{"t":70.9,"v":-0.4},{"t":71.13,"v":1.2},{"t":71.33,"v":-3.7},{"t":71.61,"v":2.0},{"t":71.83,"v":-0.6},{"t":71.93,"v":0.5},{"t":72.11,"v":1.2},{"t":72.31,"v":-1.1},{"t":72.45,"v":-2.0},{"t":72.75,"v":2.6},{"t":72.92,"v":-4.0},{"t":73.2,"v":2.3},{"t":73.41,"v":-3.5},{"t":73.69,"v":4.5},{"t":73.93,"v":-3.4},{"t":74.11,"v":2.8},{"t":74.4,"v":-4.4},{"t":74.76,"v":3.7},{"t":75.0,"v":-2.7},{"t":75.2,"v":1.4},{"t":75.49,"v":-3.1},{"t":75.78,"v":4.6},{"t":75.99,"v":-4.6},{"t":76.25,"v":2.8},{"t":76.45,"v":-3.8},{"t":76.76,"v":4.4},{"t":77.0,"v":-4.7},{"t":77.24,"v":3.2},{"t":77.49,"v":-4.1},{"t":77.78,"v":4.3},{"t":77.99,"v":-3.9},{"t":78.27,"v":3.5},{"t":78.48,"v":-3.7},{"t":78.79,"v":5.5},{"t":79.04,"v":-4.9},{"t":79.28,"v":3.1},{"t":79.56,"v":-4.0},{"t":79.86,"v":5.1},{"t":80.07,"v":-4.6},{"t":80.31,"v":2.9},{"t":80.56,"v":-4.3},{"t":80.83,"v":3.0},{"t":81.06,"v":-4.7},{"t":81.32,"v":0.5},{"t":81.55,"v":-4.8},{"t":81.83,"v":2.5},{"t":82.14,"v":-2.3},{"t":82.31,"v":1.3},{"t":82.59,"v":-2.5},{"t":82.92,"v":2.5},{"t":83.2,"v":-2.5},{"t":83.41,"v":1.3},{"t":83.66,"v":-1.8},{"t":83.9,"v":2.3},{"t":84.09,"v":0.6},{"t":84.23,"v":-2.7},{"t":84.42,"v":-0.2},{"t":84.61,"v":1.0},{"t":84.82,"v":0.1},{"t":85.03,"v":1.5},{"t":85.31,"v":-2.9},{"t":85.66,"v":2.4},{"t":85.87,"v":-1.3},{"t":86.08,"v":2.1},{"t":86.3,"v":-3.5},{"t":86.65,"v":3.2},{"t":86.93,"v":-2.0},{"t":87.0,"v":-1.6}]
},
"vconcat": [
 {"width": 2796, "height": 388, "data": {"name": "a"},
  "layer": [
   {"mark": {"type": "line", "color": "black", "strokeWidth": 2.5, "interpolate": "monotone"},
    "encoding": {
     "x": {"field": "t", "type": "quantitative", "scale": {"domain": [0, 87], "nice": false, "zero": false},
           "axis": {"orient": "bottom", "title": null, "labels": false, "values": [0,1,2,3,4,5,6,7,8,9,10,11,12,13,14,15,16,17,18,19,20,21,22,23,24,25,26,27,28,29,30,31,32,33,34,35,36,37,38,39,40,41,42,43,44,45,46,47,48,49,50,51,52,53,54,55,56,57,58,59,60,61,62,63,64,65,66,67,68,69,70,71,72,73,74,75,76,77,78,79,80,81,82,83,84,85,86,87], "tickSize": {"condition": {"test": "datum.value % 5 === 0", "value": -29}, "value": -15}}},
     "y": {"field": "v", "type": "quantitative", "scale": {"domain": [-10, 10], "nice": false},
           "axis": {"orient": "left", "title": null, "values": [-10,-8,-6,-4,-2,0,2,4,6,8,10], "labelExpr": "datum.value === 10 ? '10' : datum.value === 0 ? '0' : datum.value === -10 ? '-10' : ''", "labelPadding": 37, "tickSize": {"condition": {"test": "datum.value % 10 === 0", "value": -29}, "value": -15}}}
    }},
   {"data": {"values": [{}]},
    "mark": {"type": "text", "text": "a)", "align": "right", "baseline": "middle", "fontSize": 40, "fontWeight": "bold", "font": "Liberation Sans", "color": "black"},
    "encoding": {
     "x": {"datum": 86.3, "type": "quantitative", "axis": {"orient": "top", "title": null, "labels": false, "values": [0,1,2,3,4,5,6,7,8,9,10,11,12,13,14,15,16,17,18,19,20,21,22,23,24,25,26,27,28,29,30,31,32,33,34,35,36,37,38,39,40,41,42,43,44,45,46,47,48,49,50,51,52,53,54,55,56,57,58,59,60,61,62,63,64,65,66,67,68,69,70,71,72,73,74,75,76,77,78,79,80,81,82,83,84,85,86,87], "tickSize": {"condition": {"test": "datum.value % 5 === 0", "value": -29}, "value": -15}}},
     "y": {"datum": 7.9, "type": "quantitative", "axis": {"orient": "right", "title": null, "labels": false, "values": [-10,-8,-6,-4,-2,0,2,4,6,8,10], "tickSize": {"condition": {"test": "datum.value % 10 === 0", "value": -29}, "value": -15}}}
    }}
  ],
  "resolve": {"axis": {"x": "independent", "y": "independent"}}
 },
 {"width": 2796, "height": 388, "data": {"name": "b"},
  "layer": [
   {"mark": {"type": "line", "color": "black", "strokeWidth": 2.5, "interpolate": "monotone"},
    "encoding": {
     "x": {"field": "t", "type": "quantitative", "scale": {"domain": [0, 87], "nice": false, "zero": false},
           "axis": {"orient": "bottom", "title": null, "labels": false, "values": [0,1,2,3,4,5,6,7,8,9,10,11,12,13,14,15,16,17,18,19,20,21,22,23,24,25,26,27,28,29,30,31,32,33,34,35,36,37,38,39,40,41,42,43,44,45,46,47,48,49,50,51,52,53,54,55,56,57,58,59,60,61,62,63,64,65,66,67,68,69,70,71,72,73,74,75,76,77,78,79,80,81,82,83,84,85,86,87], "tickSize": {"condition": {"test": "datum.value % 5 === 0", "value": -29}, "value": -15}}},
     "y": {"field": "v", "type": "quantitative", "scale": {"domain": [-10, 10], "nice": false},
           "axis": {"orient": "left", "title": "Transport (m³/s) (· 10³)", "titleFontSize": 55, "titlePadding": 76, "values": [-10,-8,-6,-4,-2,0,2,4,6,8,10], "labelExpr": "datum.value === 10 ? '10' : datum.value === 0 ? '0' : datum.value === -10 ? '-10' : ''", "labelPadding": 37, "tickSize": {"condition": {"test": "datum.value % 10 === 0", "value": -29}, "value": -15}}}
    }},
   {"data": {"values": [{}]},
    "mark": {"type": "text", "text": "b)", "align": "right", "baseline": "middle", "fontSize": 40, "fontWeight": "bold", "font": "Liberation Sans", "color": "black"},
    "encoding": {
     "x": {"datum": 86.3, "type": "quantitative", "axis": {"orient": "top", "title": null, "labels": false, "values": [0,1,2,3,4,5,6,7,8,9,10,11,12,13,14,15,16,17,18,19,20,21,22,23,24,25,26,27,28,29,30,31,32,33,34,35,36,37,38,39,40,41,42,43,44,45,46,47,48,49,50,51,52,53,54,55,56,57,58,59,60,61,62,63,64,65,66,67,68,69,70,71,72,73,74,75,76,77,78,79,80,81,82,83,84,85,86,87], "tickSize": {"condition": {"test": "datum.value % 5 === 0", "value": -29}, "value": -15}}},
     "y": {"datum": 7.9, "type": "quantitative", "axis": {"orient": "right", "title": null, "labels": false, "values": [-10,-8,-6,-4,-2,0,2,4,6,8,10], "tickSize": {"condition": {"test": "datum.value % 10 === 0", "value": -29}, "value": -15}}}
    }}
  ],
  "resolve": {"axis": {"x": "independent", "y": "independent"}}
 },
 {"width": 2796, "height": 388, "data": {"name": "c"},
  "layer": [
   {"mark": {"type": "line", "color": "black", "strokeWidth": 2.5, "interpolate": "monotone"},
    "encoding": {
     "x": {"field": "t", "type": "quantitative", "scale": {"domain": [0, 87], "nice": false, "zero": false},
           "axis": {"orient": "bottom", "title": null, "labelAngle": -63, "labelAlign": "right", "labelBaseline": "middle", "labelPadding": 80, "labelOffset": 26, "labelExpr": "datum.value % 5 === 0 ? timeFormat(datetime(2010, 9, 6 + datum.value), '%d-%b-%Y') : ''", "values": [0,1,2,3,4,5,6,7,8,9,10,11,12,13,14,15,16,17,18,19,20,21,22,23,24,25,26,27,28,29,30,31,32,33,34,35,36,37,38,39,40,41,42,43,44,45,46,47,48,49,50,51,52,53,54,55,56,57,58,59,60,61,62,63,64,65,66,67,68,69,70,71,72,73,74,75,76,77,78,79,80,81,82,83,84,85,86,87], "tickSize": {"condition": {"test": "datum.value % 5 === 0", "value": -29}, "value": -15}}},
     "y": {"field": "v", "type": "quantitative", "scale": {"domain": [-10, 10], "nice": false},
           "axis": {"orient": "left", "title": null, "values": [-10,-8,-6,-4,-2,0,2,4,6,8,10], "labelExpr": "datum.value === 10 ? '10' : datum.value === 0 ? '0' : datum.value === -10 ? '-10' : ''", "labelPadding": 37, "tickSize": {"condition": {"test": "datum.value % 10 === 0", "value": -29}, "value": -15}}}
    }},
   {"data": {"values": [{}]},
    "mark": {"type": "text", "text": "c)", "align": "right", "baseline": "middle", "fontSize": 40, "fontWeight": "bold", "font": "Liberation Sans", "color": "black"},
    "encoding": {
     "x": {"datum": 86.3, "type": "quantitative", "axis": {"orient": "top", "title": null, "labels": false, "values": [0,1,2,3,4,5,6,7,8,9,10,11,12,13,14,15,16,17,18,19,20,21,22,23,24,25,26,27,28,29,30,31,32,33,34,35,36,37,38,39,40,41,42,43,44,45,46,47,48,49,50,51,52,53,54,55,56,57,58,59,60,61,62,63,64,65,66,67,68,69,70,71,72,73,74,75,76,77,78,79,80,81,82,83,84,85,86,87], "tickSize": {"condition": {"test": "datum.value % 5 === 0", "value": -29}, "value": -15}}},
     "y": {"datum": 7.9, "type": "quantitative", "axis": {"orient": "right", "title": null, "labels": false, "values": [-10,-8,-6,-4,-2,0,2,4,6,8,10], "tickSize": {"condition": {"test": "datum.value % 10 === 0", "value": -29}, "value": -15}}}
    }}
  ],
  "resolve": {"axis": {"x": "independent", "y": "independent"}}
 }
]
}
